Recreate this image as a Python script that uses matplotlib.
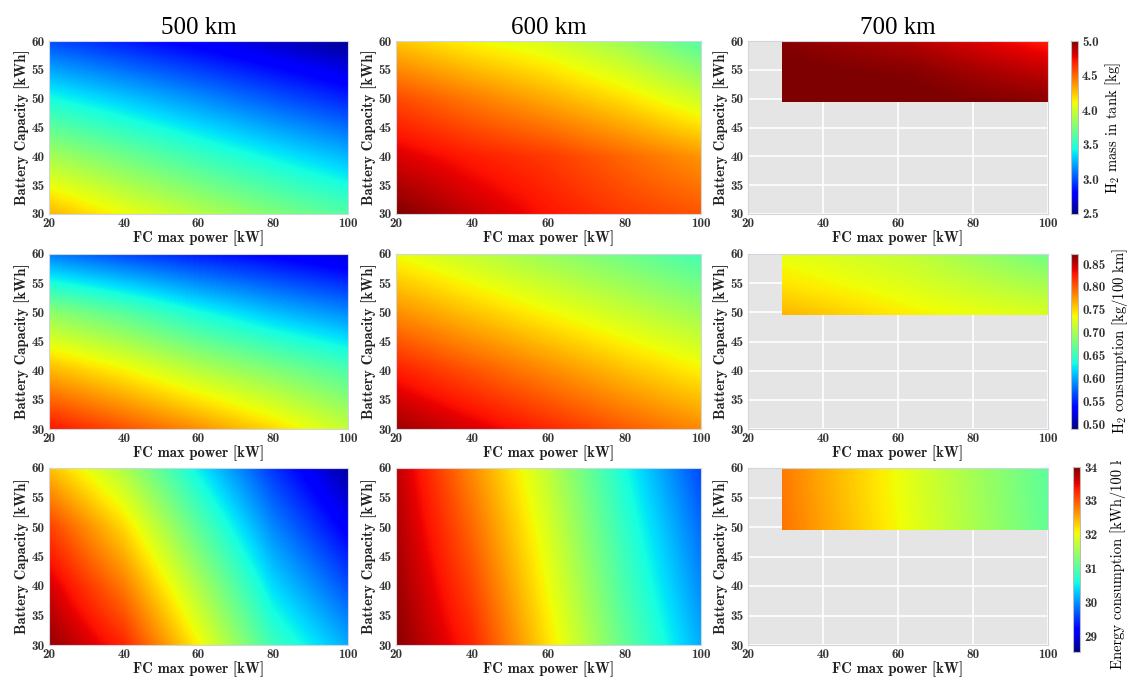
import numpy as np
import matplotlib
matplotlib.use("Agg")
import matplotlib.pyplot as plt
from matplotlib.transforms import Bbox
from matplotlib.patches import Rectangle

# ---------------- data ----------------
fc_power = [20, 40, 60, 80, 100]          # kW
battery = [30, 40, 50, 60]                # kWh
fc_power_700 = [29, 64.5, 100]
battery_700 = [49.5, 54.75, 60]

ranges = ["500 km", "600 km", "700 km"]

# H2 mass in tank [kg]
h2mass_500 = [[4.30, 4.10, 3.93, 3.77, 3.63],
              [3.88, 3.72, 3.56, 3.41, 3.27],
              [3.45, 3.31, 3.17, 3.03, 2.90],
              [3.00, 2.88, 2.77, 2.66, 2.55]]
h2mass_600 = [[5.00, 4.85, 4.72, 4.62, 4.55],
              [4.80, 4.70, 4.62, 4.50, 4.38],
              [4.58, 4.45, 4.32, 4.18, 4.00],
              [4.25, 4.12, 4.02, 3.85, 3.62]]
h2mass_700 = [[5.05, 5.02, 4.98],
              [5.02, 4.98, 4.85],
              [4.98, 4.88, 4.70]]

# H2 consumption [kg/100 km]
h2cons_500 = [[0.830, 0.805, 0.780, 0.750, 0.715],
              [0.765, 0.740, 0.710, 0.685, 0.660],
              [0.690, 0.665, 0.635, 0.610, 0.590],
              [0.585, 0.565, 0.548, 0.535, 0.520]]
h2cons_600 = [[0.862, 0.842, 0.822, 0.801, 0.782],
              [0.826, 0.804, 0.782, 0.760, 0.740],
              [0.780, 0.758, 0.737, 0.717, 0.697],
              [0.734, 0.714, 0.694, 0.675, 0.655]]
h2cons_700 = [[0.765, 0.740, 0.725],
              [0.745, 0.725, 0.700],
              [0.730, 0.712, 0.675]]

# Energy consumption [kWh/100 km]
energy_500 = [[33.90, 33.30, 32.10, 30.85, 30.15],
              [33.60, 32.80, 31.60, 30.40, 29.65],
              [33.15, 32.25, 31.05, 29.95, 29.15],
              [32.40, 31.60, 30.50, 29.50, 28.70]]
energy_600 = [[33.95, 33.30, 32.20, 31.10, 30.15],
              [33.87, 33.10, 32.03, 30.93, 29.97],
              [33.78, 32.90, 31.87, 30.77, 29.80],
              [33.70, 32.70, 31.70, 30.60, 29.60]]
energy_700 = [[32.85, 31.95, 31.10],
              [32.82, 31.92, 31.07],
              [32.80, 31.90, 31.05]]

rows = [
    dict(data=[h2mass_500, h2mass_600, h2mass_700], vmin=2.5, vmax=5.0,
         ticks=[2.5, 3.0, 3.5, 4.0, 4.5, 5.0], fmt="{:.1f}",
         label=r"$\mathrm{H_2}$ mass in tank [kg]"),
    dict(data=[h2cons_500, h2cons_600, h2cons_700], vmin=0.49, vmax=0.872,
         ticks=[0.50, 0.55, 0.60, 0.65, 0.70, 0.75, 0.80, 0.85], fmt="{:.2f}",
         label=r"$\mathrm{H_2}$ consumption [kg/100 km]"),
    dict(data=[energy_500, energy_600, energy_700], vmin=28.53, vmax=34.0,
         ticks=[29, 30, 31, 32, 33, 34], fmt="{:.0f}",
         label="Energy consumption [kWh/100 km]"),
]

# ---------------- layout ----------------
W, H = 1129, 680
fig = plt.figure(figsize=(W / 100, H / 100), dpi=100)

col_x = [(49, 348), (396, 701), (748, 1048)]
row_y = [(41, 214), (254, 429), (468, 645)]
cbar_pos = [(1071, 41, 7, 173), (1071, 254, 7, 175), (1073, 467, 7, 185)]

TICK_FONT = "cmb10"
LABEL_FONT = "cmb10"

def px_axes(x0, y0, w, h):
    return fig.add_axes([x0 / W, 1 - (y0 + h) / H, w / W, h / H])

def centred_extent(xs, ys):
    dx = (xs[1] - xs[0]) / 2
    dy = (ys[1] - ys[0]) / 2
    return [xs[0] - dx, xs[-1] + dx, ys[0] - dy, ys[-1] + dy]

plt.rcParams["mathtext.fontset"] = "cm"

for r, row in enumerate(rows):
    y0, y1 = row_y[r]
    img = None
    for c in range(3):
        x0, x1 = col_x[c]
        ax = px_axes(x0, y0, x1 - x0, y1 - y0)
        ax.set_facecolor("#e5e5e5")
        ax.set_axisbelow(True)
        ax.grid(True, color="white", linewidth=1.2)
        xs, ys = (fc_power, battery) if c < 2 else (fc_power_700, battery_700)
        Z = np.array(row["data"][c])
        img = ax.imshow(Z, cmap="jet", vmin=row["vmin"], vmax=row["vmax"],
                        origin="lower", extent=centred_extent(xs, ys),
                        interpolation="bilinear", interpolation_stage="data",
                        aspect="auto", zorder=2)
        clip = Rectangle((xs[0], ys[0]), xs[-1] - xs[0], ys[-1] - ys[0],
                         transform=ax.transData, facecolor="none")
        img.set_clip_path(clip)
        ax.set_xlim(20, 100)
        ax.set_ylim(30, 60)
        ax.set_xticks([20, 40, 60, 80, 100])
        ax.set_yticks([30, 35, 40, 45, 50, 55, 60])
        ax.tick_params(axis="both", length=0, pad=3, labelsize=9.5,
                       colors="#333333")
        for lab in ax.get_xticklabels() + ax.get_yticklabels():
            lab.set_family(TICK_FONT)
        for s in ax.spines.values():
            s.set_color("#cfd6e0")
            s.set_linewidth(0.8)
            s.set_zorder(3)
        ax.set_xlabel("FC max power [kW]", family=LABEL_FONT, fontsize=10.5,
                      labelpad=0, color="#222222")
        ax.set_ylabel("Battery Capacity [kWh]", family=LABEL_FONT, fontsize=10.5,
                      labelpad=1, color="#222222")
        if r == 0:
            ax.set_title(ranges[c], family="Liberation Serif", fontsize=18,
                         pad=5)
    cx, cy, cw, ch = cbar_pos[r]
    cax = px_axes(cx, cy, cw, ch)
    cb = fig.colorbar(img, cax=cax)
    cb.set_ticks(row["ticks"])
    cb.set_ticklabels([row["fmt"].format(t) for t in row["ticks"]])
    cb.outline.set_edgecolor("#bbbbbb")
    cb.outline.set_linewidth(0.8)
    cax.tick_params(length=0, pad=3, labelsize=9.5, colors="#333333")
    for lab in cax.get_yticklabels():
        lab.set_family(TICK_FONT)
    if r < 2:
        cb.set_label(row["label"], family="cmr10", fontsize=10.5, labelpad=3)
    else:
        # label is cropped at the top in the reference
        t = fig.text(1118 / W, 1 - 555 / H, row["label"], family="cmr10",
                     fontsize=10.5, rotation=90, ha="center", va="center")
        t.set_clip_box(Bbox.from_extents(1090, 0, W, H - 461))
        t.set_clip_on(True)

fig.savefig("out.png", dpi=100)
